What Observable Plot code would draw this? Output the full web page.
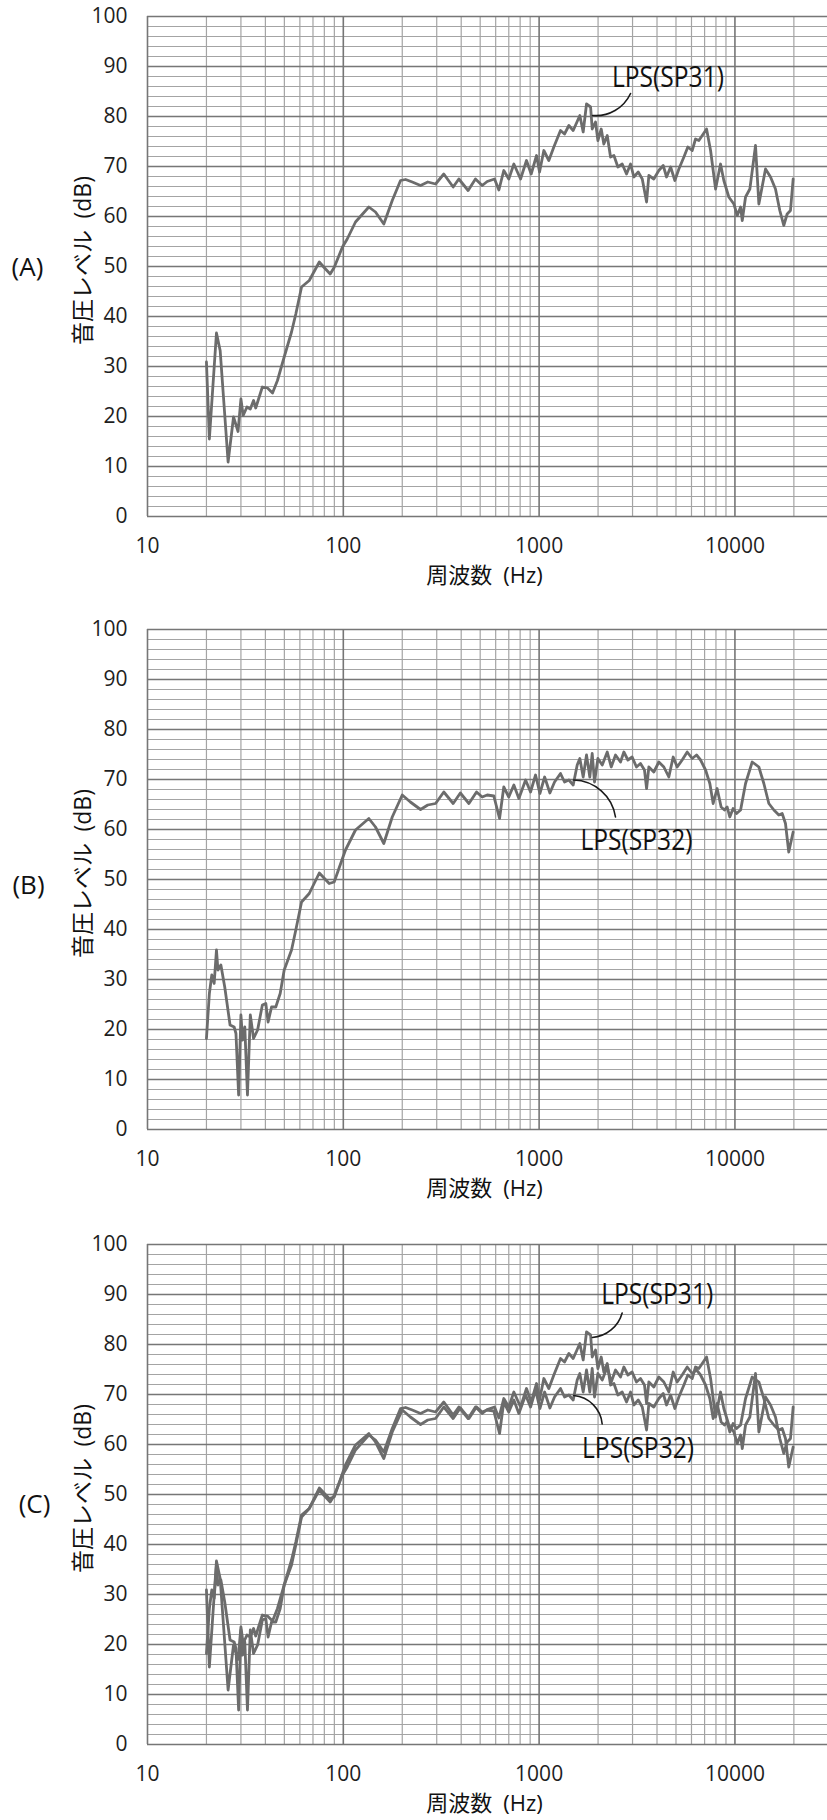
<!DOCTYPE html>
<html>
<head>
<meta charset="utf-8">
<script src="https://cdn.jsdelivr.net/npm/d3@7"></script>
<script src="https://cdn.jsdelivr.net/npm/@observablehq/plot@0.6"></script>
<style>
  html, body { margin: 0; padding: 0; background: #fff; }
  #chart svg { display: block; }
</style>
</head>
<body>
<div id="chart"></div>
<script>
// ---- data ----
const freqSP31 = [20, 20.7, 22.5, 23.5, 25.8, 27.5, 29, 30, 30.8, 32.2, 33.5, 34.8, 35.7, 38.6, 41, 43.5, 46.1, 49.9, 54.4, 57.2, 61.2, 67, 75.4, 79.8, 85.7, 89.8, 99, 104.7, 115.4, 135, 146, 161, 177.8, 196, 208, 225, 248, 270, 296, 326, 364, 389, 434, 473, 512, 543, 592, 623, 660, 700, 743, 804, 862, 911, 970, 1005, 1057, 1121, 1189, 1286, 1348, 1419, 1493, 1614, 1679, 1746, 1832, 1867, 1941, 1996, 2076, 2140, 2228, 2316, 2410, 2525, 2657, 2795, 2930, 3047, 3208, 3363, 3539, 3634, 3853, 4086, 4303, 4475, 4693, 4935, 5172, 5488, 5748, 6050, 6291, 6545, 6808, 7164, 7510, 7965, 8441, 8777, 9305, 9876, 10280, 10690, 10900, 11330, 11920, 12740, 13250, 14330, 15200, 16110, 16950, 17760, 18480, 19220, 19830];
const levelSP31 = [30.9, 15.5, 36.7, 33.2, 10.9, 19.9, 17, 23.5, 20.2, 21.9, 21.5, 23.2, 21.7, 25.9, 25.7, 24.7, 27.2, 31.9, 36.9, 40.5, 45.9, 47.2, 50.9, 49.8, 48.5, 49.8, 53.9, 55.5, 58.9, 61.9, 60.9, 58.5, 63.2, 67.2, 67.4, 66.9, 66.2, 66.9, 66.5, 68.5, 65.9, 67.5, 65.2, 67.5, 66.2, 67, 67.5, 65.3, 69.2, 67.5, 70.5, 67.5, 71.2, 68.5, 72.2, 68.9, 73.2, 71.2, 73.9, 77.2, 76.5, 78.2, 77.2, 80.2, 76.9, 82.5, 81.9, 77.5, 78.9, 75.2, 77.5, 74.5, 76.2, 71.9, 72.2, 69.9, 70.5, 68.5, 70.5, 67.9, 68.9, 67.5, 62.9, 68.2, 67.5, 69.2, 70.2, 67.9, 69.9, 67.2, 69.5, 71.9, 73.9, 73.2, 75.5, 75.2, 76.2, 77.5, 73.2, 65.5, 70.5, 67.2, 63.9, 62.5, 60.2, 61.9, 59.2, 63.9, 65.5, 74.2, 62.5, 69.5, 67.9, 65.5, 61.2, 58.2, 60.5, 61.2, 67.5];

const freqSP32 = [20, 20.7, 21.3, 21.9, 22.5, 22.9, 23.7, 24.8, 26.4, 27.7, 28.3, 29.2, 30, 30.6, 31.4, 32.4, 33.5, 34.8, 36.5, 38.6, 40.2, 41.3, 43, 45.2, 47.6, 49.9, 54.4, 57.2, 61.2, 67, 75.4, 84.7, 89.8, 99, 102.6, 115.4, 135, 146, 161, 177.8, 200, 220, 248, 270, 296, 326, 364, 396, 438, 479, 512, 543, 587, 628, 660, 700, 743, 788, 853, 904, 959, 1009, 1067, 1135, 1199, 1286, 1348, 1419, 1493, 1565, 1614, 1679, 1746, 1815, 1867, 1918, 1996, 2101, 2228, 2335, 2456, 2604, 2709, 2840, 2986, 3141, 3293, 3452, 3539, 3634, 3853, 4086, 4335, 4596, 4838, 5071, 5378, 5705, 6050, 6367, 6675, 7080, 7445, 7742, 8111, 8502, 8844, 9128, 9414, 9789, 10190, 10690, 11330, 12250, 13250, 14050, 14900, 15810, 16760, 17430, 18120, 18830, 19830];
const levelSP32 = [18.2, 27.2, 30.9, 29.2, 35.9, 31.9, 32.9, 28.5, 20.9, 20.5, 19.2, 6.9, 22.9, 17.9, 20.5, 6.9, 22.9, 18.2, 19.9, 24.9, 25.2, 21.5, 24.5, 24.5, 27.2, 31.9, 35.9, 39.9, 45.5, 47.2, 51.3, 49.2, 49.5, 54.2, 55.9, 59.9, 62.2, 60.5, 57.2, 62.5, 66.9, 65.5, 64, 64.9, 65.2, 67.5, 65.2, 67.3, 65.2, 67.5, 66.5, 66.9, 66.7, 62.2, 68.5, 66.5, 68.9, 66.2, 69.9, 67.5, 70.9, 67.2, 70.5, 67.3, 69.5, 71.2, 69.5, 69.9, 68.9, 72.9, 74.2, 70.5, 74.9, 70.5, 75.2, 69.5, 74.2, 72.9, 75.5, 72.5, 74.9, 73.5, 75.5, 73.9, 74.5, 72.5, 73.2, 71.9, 68.2, 72.5, 71.5, 73.5, 72.5, 70.5, 74.5, 72.5, 73.9, 75.5, 74.2, 74.9, 73.9, 71.9, 69.2, 65.2, 68.2, 64.5, 63.9, 64.5, 62.5, 64.2, 63.2, 63.9, 69.2, 73.5, 72.5, 69.2, 65.2, 63.9, 62.9, 63.2, 61.2, 55.5, 59.5];

const panelNames = ["(A)", "(B)", "(C)"];
const yTickValues = [0, 10, 20, 30, 40, 50, 60, 70, 80, 90, 100];
const xTickValues = [10, 100, 1000, 10000];
const xTitle = "周波数\u2002(Hz)";
const yTitle = "音圧レベル\u2002(dB)";

// annotation anchors (frequency, level): curve point, leader end, label centre
const notesA = [{label: "LPS(SP31)", fx: 1875, fy: 80.2, ex: 2931, ey: 84.6, tx: 4550, ty: 87.8, bend: -35}];
const notesB = [{label: "LPS(SP32)", fx: 1500, fy: 69.9, ex: 2455, ey: 62.5, tx: 3142, ty: 57.9, bend: 40}];
const notesC = [
  {label: "LPS(SP31)", fx: 1870, fy: 81.4, ex: 2655, ey: 86.3, tx: 4010, ty: 90.1, bend: -35},
  {label: "LPS(SP32)", fx: 1503, fy: 69.8, ex: 2099, ey: 64.1, tx: 3200, ty: 59.2, bend: 40}
];

// ---- build ----
const sp31 = freqSP31.map((f, i) => ({f, db: levelSP31[i]}));
const sp32 = freqSP32.map((f, i) => ({f, db: levelSP32[i]}));

const xDomain = [10, 29700];
const xGridAll = d3.scaleLog().domain(xDomain).ticks();
const xMajor = xGridAll.filter(v => Math.abs(Math.log10(v) - Math.round(Math.log10(v))) < 1e-9);
const xMinor = xGridAll.filter(v => !xMajor.includes(v));
const yMinor = d3.range(0, 101, 2).filter(v => v % 10 !== 0);
const yMajor = yTickValues;

const panels = [
  {name: panelNames[0], series: [sp31], notes: notesA, mt: 16, mb: 97, ldx: -120, ldy: 1},
  {name: panelNames[1], series: [sp32], notes: notesB, mt: 16, mb: 98, ldx: -119, ldy: 6},
  {name: panelNames[2], series: [sp32, sp31], notes: notesC, mt: 17, mb: 76, ldx: -113, ldy: 10}
];

const fontFamily = "'Open Sans', 'Noto Sans CJK JP', sans-serif";
const chart = document.getElementById("chart");

for (const p of panels) {
  const svg = Plot.plot({
    width: 827,
    height: p.mt + 500 + p.mb,
    marginTop: p.mt,
    marginBottom: p.mb,
    marginLeft: 147,
    marginRight: 0,
    style: {fontFamily, fontSize: "21px", color: "#1e1e1e", background: "#fff", overflow: "visible"},
    x: {type: "log", domain: xDomain, ticks: xTickValues, tickFormat: d => String(d), tickSize: 0, tickPadding: 22, label: null},
    y: {domain: [0, 100], ticks: yTickValues, tickSize: 0, tickPadding: 20, label: null},
    marks: [
      Plot.ruleY(yMinor, {stroke: "#a4a4a4", strokeWidth: 1.2}),
      Plot.ruleX(xMinor, {stroke: "#a4a4a4", strokeWidth: 1.2}),
      Plot.ruleY(yMajor, {stroke: "#767676", strokeWidth: 1.6}),
      Plot.ruleX(xMajor, {stroke: "#767676", strokeWidth: 1.6}),
      ...p.series.map(s => Plot.line(s, {x: "f", y: "db", stroke: "#6c6c6c", strokeWidth: 2.8, strokeLinejoin: "round"})),
      ...p.notes.map(n => Plot.arrow([n], {x1: "fx", y1: "fy", x2: "ex", y2: "ey", bend: n.bend, headLength: 0, stroke: "#1a1a1a", strokeWidth: 1.6})),
      Plot.text(p.notes, {x: "tx", y: "ty", text: "label", fontSize: 30, fill: "#111", textAnchor: "middle", lineAnchor: "middle"}),
      Plot.text([p.name], {text: d => d, frameAnchor: "left", dx: p.ldx, dy: p.ldy, fontSize: 26, fill: "#111", textAnchor: "middle", lineAnchor: "middle"}),
      Plot.text([yTitle], {text: d => d, frameAnchor: "left", dx: -64, dy: -6, rotate: -90, fontSize: 23, fill: "#111", textAnchor: "middle", lineAnchor: "middle"}),
      Plot.text([xTitle], {text: d => d, frameAnchor: "bottom", dx: -3, dy: 59, fontSize: 22, fill: "#111", textAnchor: "middle", lineAnchor: "middle"})
    ]
  });
  svg.querySelectorAll("text").forEach(t => {
    if (t.textContent.startsWith("LPS")) {
      t.setAttribute("textLength", 112);
      t.setAttribute("lengthAdjust", "spacingAndGlyphs");
    }
  });
  chart.appendChild(svg);
}
</script>
</body>
</html>
